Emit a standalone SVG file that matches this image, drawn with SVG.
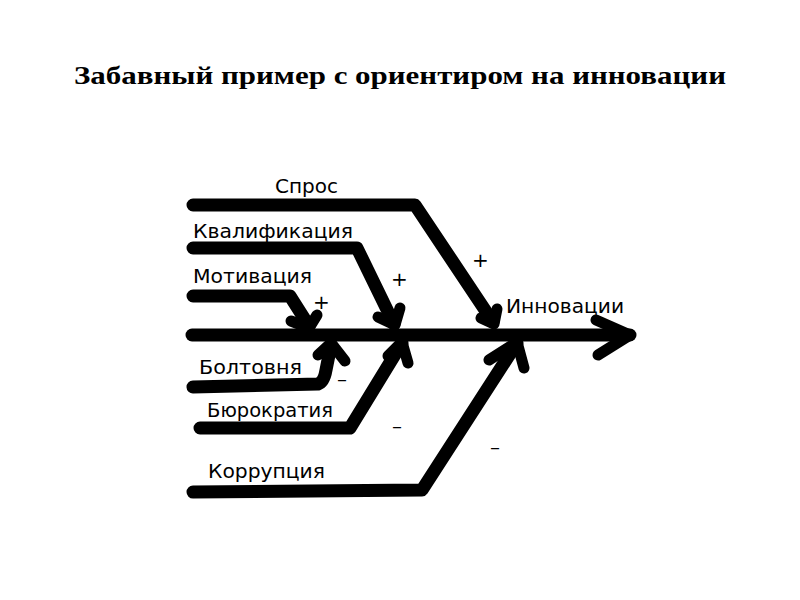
<svg xmlns="http://www.w3.org/2000/svg" width="800" height="600" viewBox="0 0 800 600">
<style>
.t{font-family:"Liberation Serif","Times New Roman",serif;font-weight:bold;font-size:25px;fill:#000}
.l{font-family:"DejaVu Sans","Noto Sans",sans-serif;font-size:19px;fill:#000}
.s{font-family:"DejaVu Sans","Noto Sans",sans-serif;font-size:20px;fill:#000}
.c{fill:none;stroke:#000;stroke-width:13;stroke-linecap:round;stroke-linejoin:round}
.b{fill:none;stroke:#000;stroke-width:11;stroke-linecap:round;stroke-linejoin:round}
</style>
<rect width="800" height="600" fill="#fff"/>
<text class="t" x="400" y="84" text-anchor="middle" textLength="652" lengthAdjust="spacingAndGlyphs">Забавный пример с ориентиром на инновации</text>
<g id="connectors">
  <path class="c" d="M192,335 L630,335"/>
  <path class="b" d="M596,320 L630,335 L598,355"/>
  <path class="c" d="M193,205 L415,205 L493,322"/>
  <path class="b" d="M481,318 L494,324 L497,309"/>
  <path class="c" d="M193,248 L357,248 L394,324"/>
  <path class="b" d="M378,317 L395,325 L400,308"/>
  <path class="c" d="M193,296 L290,296 L309,326"/>
  <path class="b" d="M291,321 L309,328 L317,315"/>
  <path class="c" d="M193,387 L318,384 Q324,382 326,370 L331,345"/>
  <path class="b" d="M318,355 L331,343 L345,361"/>
  <path class="c" d="M200,428 L350,428 L402,343"/>
  <path class="b" d="M388,356 L402,342 L408,363"/>
  <path class="c" d="M193,492 L422,490 L517,343"/>
  <path class="b" d="M489,360 L517,342 L524,368"/>
  <text class="s" x="313" y="309">+</text>
  <text class="s" x="391" y="286">+</text>
  <text class="s" x="472" y="267">+</text>
  <text class="s" x="337" y="386">–</text>
  <text class="s" x="392" y="433">–</text>
  <text class="s" x="490" y="454">–</text>
</g>
<g id="spros"><text class="l" x="275" y="193" textLength="63" lengthAdjust="spacingAndGlyphs">Спрос</text></g>
<g id="kvalifikaciya"><text class="l" x="193" y="238" textLength="160" lengthAdjust="spacingAndGlyphs">Квалификация</text></g>
<g id="motivaciya"><text class="l" x="193" y="283" textLength="119" lengthAdjust="spacingAndGlyphs">Мотивация</text></g>
<g id="boltovnya"><text class="l" x="199" y="374" textLength="103" lengthAdjust="spacingAndGlyphs">Болтовня</text></g>
<g id="byurokratiya"><text class="l" x="207" y="417" textLength="126" lengthAdjust="spacingAndGlyphs">Бюрократия</text></g>
<g id="korrupciya"><text class="l" x="208" y="478" textLength="117" lengthAdjust="spacingAndGlyphs">Коррупция</text></g>
<g id="innovacii"><text class="l" x="506" y="313" textLength="118" lengthAdjust="spacingAndGlyphs">Инновации</text></g>
</svg>
